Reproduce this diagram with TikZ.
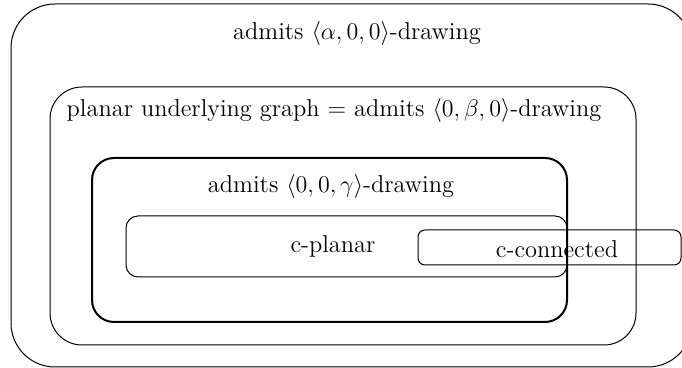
\documentclass[tikz,border=0pt]{standalone}
\begin{document}
\begin{tikzpicture}[x=0.5pt,y=-0.5pt,
  region/.style={draw, line width=0.5pt},
  lbl/.style={inner sep=0pt, font=\fontsize{12.2}{14}\selectfont}]
\useasboundingbox (0,0) rectangle (682,368);
\begin{scope}
\clip (0,0) rectangle (682,368);
\draw[region, rounded corners=22pt] (11,4) rectangle (692,367);
\end{scope}
\draw[region, rounded corners=16pt] (50,87) rectangle (636,345);
\draw[region, line width=1pt, rounded corners=11pt] (92,158) rectangle (567,322);
\draw[region, rounded corners=6pt] (126,216) rectangle (567,277);
\draw[region, rounded corners=3.5pt] (418,230) rectangle (681,265);
\node[lbl] (t1) at (357,34) {admits $\langle\alpha,0,0\rangle$-drawing};
\node[lbl] (t2) at (334,111) {planar underlying graph = admits $\langle 0,\beta,0\rangle$-drawing};
\node[lbl] (t3) at (331,187) {admits $\langle 0,0,\gamma\rangle$-drawing};
\node[lbl] (t4) at (333,246) {c-planar};
\node[lbl] (t5) at (557,249) {c-connected};
\end{tikzpicture}
\end{document}
